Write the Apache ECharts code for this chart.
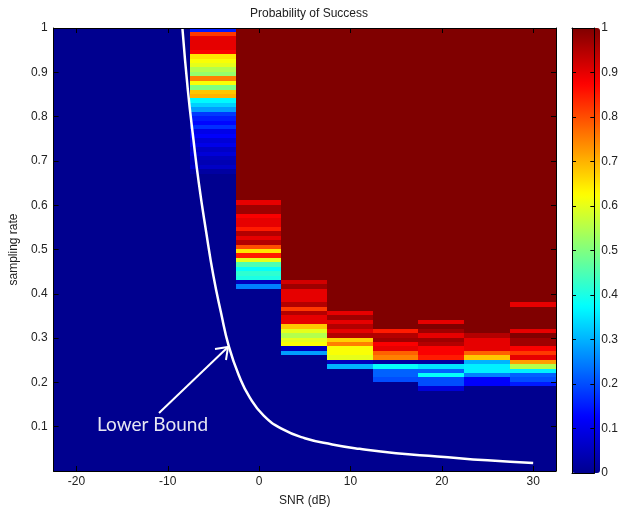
<!DOCTYPE html>
<html>
<head>
<meta charset="utf-8">
<script src="https://cdn.jsdelivr.net/npm/echarts@6/dist/echarts.min.js"></script>
<style>
    html, body { margin: 0; padding: 0; background: #fff; }
    #main { width: 621px; height: 512px; }
</style>
</head>
<body>
<div id="main"></div>
<script>
// SNR columns (dB), each 5 dB wide
var snrLevels = [-20, -15, -10, -5, 0, 5, 10, 15, 20, 25, 30];
// sampling rate rows of 0.01, counted from the top (rate 1.0) downwards
var rowCount = 100;
var rowStep = 0.01;
// row where the striped band of each column starts: rows above are 1, rows below the band are 0
// (-1 = whole column is 0)
var bandStart = [-1, -1, -1, 0, 39, 57, 63, 68, 66, 69, 62];

// probability of success inside each band, top to bottom
var bandM5 = [0.15, 0.82, 0.9, 0.9, 0.9, 0.88, 0.65, 0.62, 0.6, 0.55, 0.52, 0.75, 0.62, 0.5, 0.68, 0.7,
    0.37, 0.33, 0.28, 0.18, 0.15, 0.13, 0.17, 0.1, 0.12, 0.08, 0.1, 0.06, 0.08, 0.05, 0.04, 0.06, 0.02];
var band0 = [0.9, 0.97, 0.97, 0.88, 0.9, 0.9, 0.85, 0.95, 0.9, 0.95, 0.8, 0.65, 0.85, 0.6, 0.45, 0.38, 0.42, 0.4, 0.05, 0.25];
var band5 = [0.92, 0.97, 0.9, 0.9, 0.9, 0.95, 0.82, 0.95, 0.9, 0.9, 0.68, 0.6, 0.55, 0.6, 0.62, 0.05, 0.28];
var band10 = [1, 0.9, 0.97, 0.9, 0.95, 0.9, 0.95, 0.67, 0.75, 0.62, 0.62, 0.6, 0.05, 0.3];
var band15 = [0.85, 0.95, 0.97, 0.88, 0.9, 0.78, 0.75, 0.02, 0.38, 0.22, 0.22, 0.2];
var band20 = [0.9, 1, 0.97, 0.9, 0.97, 0.95, 0.88, 0.88, 0.85, 0.02, 0.35, 0.22, 0.38, 0.2, 0.2, 0.08];
var band25 = [0.95, 0.9, 0.9, 0.9, 0.78, 0.68, 0.3, 0.36, 0.36, 0.25, 0.12, 0.12];
var band30 = [0.9, 1, 1, 1, 1, 1, 0.9, 1, 0.97, 0.97, 0.88, 0.82, 0.9, 0.72, 0.55, 0.36, 0.22, 0.2, 0.15];
var bands = [[], [], [], bandM5, band0, band5, band10, band15, band20, band25, band30];

// lower bound curve
var boundSnr = [-8.4, -7.8, -7.2, -6.6, -5.8, -5.0, -4.2, -3.3, -2.2, -1.0, 0.5, 2.5, 5, 8, 11, 15, 19.5, 25, 30];
var boundRate = [1.0, 0.86, 0.75, 0.65, 0.54, 0.44, 0.36, 0.28, 0.215, 0.165, 0.125, 0.095, 0.074, 0.06, 0.05, 0.04, 0.033, 0.024, 0.018];

var xTicks = [-20, -10, 0, 10, 20, 30];

// jet colormap
var jet = ['#00008f', '#0000ff', '#0080ff', '#00ffff', '#80ff80', '#ffff00', '#ff8000', '#ff0000', '#800000'];

var cells = [];
for (var i = 0; i < snrLevels.length; i++) {
    for (var r = 0; r < rowCount; r++) {
        var v;
        if (bandStart[i] < 0) {
            v = 0;
        } else if (r < bandStart[i]) {
            v = 1;
        } else {
            var k = r - bandStart[i];
            v = k < bands[i].length ? bands[i][k] : 0;
        }
        cells.push([snrLevels[i], 1 - (r + 0.5) * rowStep, v]);
    }
}

var boundData = [];
for (var j = 0; j < boundSnr.length; j++) {
    boundData.push([boundSnr[j], boundRate[j]]);
}

var labelFont = { color: '#222', fontSize: 12, fontFamily: 'Liberation Sans, Arial, sans-serif' };
var blackLine = { onZero: false, lineStyle: { color: '#000', width: 1 } };

var chart = echarts.init(document.getElementById('main'));
var option = {
    backgroundColor: '#fff',
    animation: false,
    title: {
        text: 'Probability of Success',
        left: 304,
        textAlign: 'center',
        top: 3,
        textStyle: { color: '#222', fontSize: 12, fontWeight: 'normal', fontFamily: 'Liberation Sans, Arial, sans-serif' }
    },
    grid: [
        { left: 52, top: 28, width: 504, height: 445 },
        { left: 572, top: 28, width: 28, height: 445 }
    ],
    visualMap: {
        type: 'continuous',
        min: 0,
        max: 1,
        dimension: 2,
        seriesIndex: 0,
        calculable: false,
        left: 572,
        top: 28,
        padding: 0,
        itemWidth: 28,
        itemHeight: 445,
        text: null,
        z: 2,
        inRange: { color: jet }
    },
    xAxis: [
        {
            gridIndex: 0, type: 'value', min: -22.5, max: 32.5, position: 'bottom', z: 5,
            name: 'SNR (dB)', nameLocation: 'middle', nameGap: 24,
            nameTextStyle: labelFont,
            axisLine: blackLine,
            axisTick: { inside: true, length: 5, customValues: xTicks, lineStyle: { color: '#000' } },
            axisLabel: Object.assign({ customValues: xTicks, margin: 5 }, labelFont),
            splitLine: { show: false }
        },
        {
            gridIndex: 0, type: 'value', min: -22.5, max: 32.5, position: 'top', z: 5,
            axisLine: blackLine,
            axisTick: { inside: true, length: 5, customValues: xTicks, lineStyle: { color: '#000' } },
            axisLabel: { show: false },
            splitLine: { show: false }
        },
        {
            gridIndex: 1, type: 'value', min: 0, max: 1, position: 'bottom', z: 5,
            axisLine: blackLine, axisTick: { show: false }, axisLabel: { show: false }, splitLine: { show: false }
        },
        {
            gridIndex: 1, type: 'value', min: 0, max: 1, position: 'top', z: 5,
            axisLine: blackLine, axisTick: { show: false }, axisLabel: { show: false }, splitLine: { show: false }
        }
    ],
    yAxis: [
        {
            gridIndex: 0, type: 'value', min: 0, max: 1, interval: 0.1, position: 'left', z: 5,
            name: 'sampling rate', nameLocation: 'middle', nameGap: 31,
            nameTextStyle: labelFont,
            axisLine: blackLine,
            axisTick: { inside: true, length: 5, lineStyle: { color: '#000' } },
            axisLabel: Object.assign({
                margin: 6,
                formatter: function (v) { return v === 0 ? '' : String(v); }
            }, labelFont),
            splitLine: { show: false }
        },
        {
            gridIndex: 0, type: 'value', min: 0, max: 1, interval: 0.1, position: 'right', z: 5,
            axisLine: blackLine,
            axisTick: { inside: true, length: 5, lineStyle: { color: '#000' } },
            axisLabel: { show: false },
            splitLine: { show: false }
        },
        {
            gridIndex: 1, type: 'value', min: 0, max: 1, interval: 0.1, position: 'right', z: 5,
            axisLine: blackLine,
            axisTick: { inside: true, length: 4, lineStyle: { color: '#000' } },
            axisLabel: Object.assign({ margin: 7 }, labelFont),
            splitLine: { show: false }
        },
        {
            gridIndex: 1, type: 'value', min: 0, max: 1, interval: 0.1, position: 'left', z: 5,
            axisLine: blackLine,
            axisTick: { inside: true, length: 4, lineStyle: { color: '#000' } },
            axisLabel: { show: false },
            splitLine: { show: false }
        }
    ],
    series: [
        {
            type: 'custom',
            xAxisIndex: 0,
            yAxisIndex: 0,
            data: cells,
            z: 1,
            renderItem: function (params, api) {
                // snap each cell to whole pixels so neighbouring cells leave no seams
                var p0 = api.coord([api.value(0) - 2.5, api.value(1) + rowStep / 2]);
                var p1 = api.coord([api.value(0) + 2.5, api.value(1) - rowStep / 2]);
                var x0 = Math.floor(p0[0]), y0 = Math.floor(p0[1]);
                var x1 = Math.ceil(p1[0]), y1 = Math.ceil(p1[1]);
                return {
                    type: 'rect',
                    shape: { x: x0, y: y0, width: x1 - x0, height: y1 - y0 },
                    style: { fill: api.visual('color') }
                };
            },
            clip: true
        },
        {
            type: 'line',
            xAxisIndex: 0,
            yAxisIndex: 0,
            data: boundData,
            smooth: true,
            symbol: 'none',
            z: 3,
            lineStyle: { color: '#fff', width: 2.5 },
            clip: true
        }
    ],
    graphic: [
        // annotation arrow
        {
            type: 'line', z: 10,
            shape: { x1: 159, y1: 413, x2: 228, y2: 347 },
            style: { stroke: '#fff', lineWidth: 2 }
        },
        {
            type: 'polyline', z: 10,
            shape: { points: [[215, 349], [228, 347], [226, 360]] },
            style: { stroke: '#fff', lineWidth: 2, fill: null }
        },
        {
            type: 'text', z: 10,
            left: 97, top: 415,
            style: { text: 'Lower Bound', fill: '#e6e6f2', fontSize: 19, fontFamily: 'Lato, Open Sans, sans-serif' }
        }
    ]
};
chart.setOption(option);
</script>
</body>
</html>
